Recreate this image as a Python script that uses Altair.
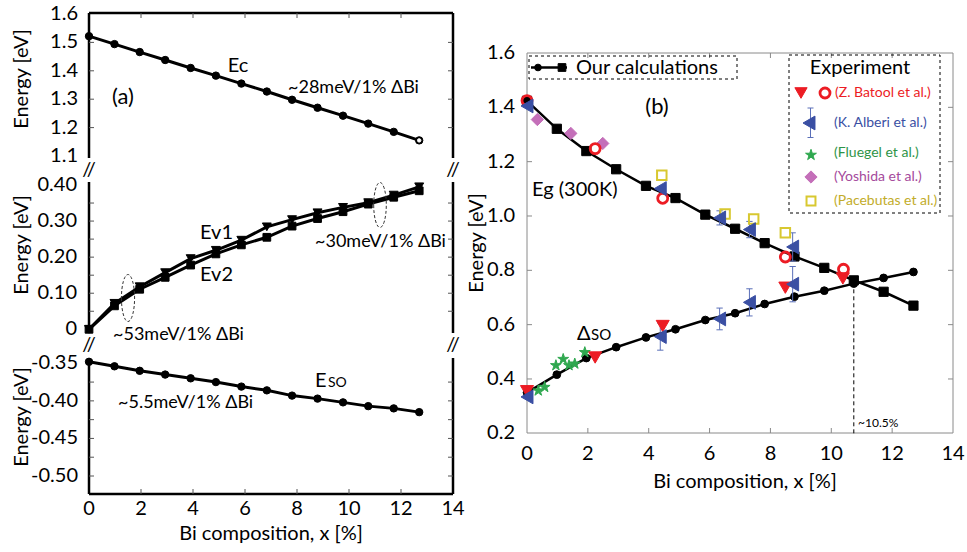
import altair as alt
import pandas as pd

FONT = "Lato"

# ---------------- data ----------------
x_calc = [0.0, 0.98, 1.95, 2.93, 3.91, 4.88, 5.86, 6.84, 7.81, 8.79, 9.77, 10.74, 11.72, 12.70]
ec = [1.522, 1.494, 1.466, 1.438, 1.410, 1.383, 1.355, 1.327, 1.298, 1.270, 1.242, 1.214, 1.185, 1.155]
ev1 = [0.0, 0.072, 0.118, 0.157, 0.196, 0.219, 0.247, 0.284, 0.304, 0.323, 0.338, 0.351, 0.372, 0.395]
ev2 = [0.0, 0.065, 0.111, 0.144, 0.178, 0.209, 0.234, 0.255, 0.286, 0.307, 0.326, 0.347, 0.366, 0.384]
eso = [-0.348, -0.354, -0.360, -0.365, -0.370, -0.375, -0.381, -0.386, -0.393, -0.397, -0.402, -0.407, -0.410, -0.415]
eg = [1.424, 1.321, 1.239, 1.172, 1.111, 1.066, 1.005, 0.953, 0.900, 0.851, 0.809, 0.763, 0.721, 0.670]
dso = [0.350, 0.416, 0.477, 0.517, 0.553, 0.583, 0.617, 0.642, 0.676, 0.703, 0.725, 0.751, 0.772, 0.794]

batool_so_x = [0.0, 2.24, 4.46, 8.49, 10.38]
batool_so_y = [0.355, 0.479, 0.595, 0.736, 0.770]
batool_eg_x = [0.0, 2.24, 4.46, 8.49, 10.40]
batool_eg_y = [1.425, 1.248, 1.065, 0.849, 0.804]
alberi_eg_x = [0.0, 4.38, 6.33, 7.31, 8.73]
alberi_eg_y = [1.405, 1.101, 0.993, 0.950, 0.886]
alberi_eg_err = [0.0, 0.0, 0.026, 0.030, 0.052]
alberi_so_x = [0.0, 4.38, 6.33, 7.31, 8.73]
alberi_so_y = [0.334, 0.556, 0.621, 0.682, 0.749]
alberi_so_err = [0.0, 0.050, 0.040, 0.050, 0.065]
fluegel_x = [0.37, 0.58, 0.95, 1.19, 1.38, 1.57, 1.90]
fluegel_y = [0.357, 0.370, 0.450, 0.473, 0.450, 0.456, 0.498]
yoshida_x = [0.34, 1.44, 2.49]
yoshida_y = [1.355, 1.304, 1.267]
pacebutas_x = [4.43, 6.51, 7.45, 8.49]
pacebutas_y = [1.150, 1.007, 0.989, 0.938]
crossover_x = [10.74]
crossover_y = [0.76]

x_labels = [0, 2, 4, 6, 8, 10, 12, 14]
top_labels = [1.1, 1.2, 1.3, 1.4, 1.5, 1.6]
mid_labels = [0.0, 0.1, 0.2, 0.3, 0.4]
mid_ticks = [0.05, 0.1, 0.15, 0.2, 0.25, 0.3, 0.35]
bot_labels = [-0.35, -0.40, -0.45, -0.50]
bot_ticks = [-0.375, -0.40, -0.425, -0.45, -0.475, -0.50]
right_y_labels = [0.2, 0.4, 0.6, 0.8, 1.0, 1.2, 1.4, 1.6]

RED = "#ec1c24"
BLUE = "#3a4fa3"
ERRBLUE = "#5a6fb8"
GREEN = "#2fa84f"
PURPLE = "#c46fb9"
YELLOW = "#d8c830"
GREY = "#8a8a8a"
TICK = "#555555"

STAR = "M0,-1 L0.2245,-0.309 L0.951,-0.309 L0.363,0.118 L0.588,0.809 L0,0.382 L-0.588,0.809 L-0.363,0.118 L-0.951,-0.309 L-0.2245,-0.309 Z"
ELLIPSE = "M-0.28,0 A0.28,1 0 1,0 0.28,0 A0.28,1 0 1,0 -0.28,0 Z"

dummy = pd.DataFrame({"d": [0]})

# ---------------- scales (pixel ranges place each panel) ----------------
XL = alt.Scale(domain=[0, 14], range=[89, 453], nice=False, zero=False)
XR = alt.Scale(domain=[0, 14], range=[527, 953], nice=False, zero=False)
Y_TOP = alt.Scale(domain=[1.1, 1.6], range=[156, 14], nice=False, zero=False)
Y_MID = alt.Scale(domain=[0.0, 0.4], range=[329.3, 185], nice=False, zero=False)
Y_BOT = alt.Scale(domain=[-0.50, -0.35], range=[476, 363.3], nice=False, zero=False)
Y_R = alt.Scale(domain=[0.2, 1.6], range=[433.3, 53], nice=False, zero=False)

layers = []


def ex(xs):
    return alt.X("x:Q", scale=xs, axis=None)


def ey(ys, f="y"):
    return alt.Y(f + ":Q", scale=ys, axis=None)


def series_line(xv, yv, xs, ys, width=3):
    df = pd.DataFrame({"x": xv, "y": yv})
    layers.append(alt.Chart(df).mark_line(color="black", strokeWidth=width).encode(x=ex(xs), y=ey(ys)))


def series_pts(xv, yv, xs, ys, shape, size, color="black", filled=True, sw=1.0):
    df = pd.DataFrame({"x": xv, "y": yv})
    kw = dict(shape=shape, size=size, opacity=1, strokeWidth=sw)
    if filled:
        kw.update(filled=True, fill=color, stroke=color)
    else:
        kw.update(filled=False, stroke=color)
    layers.append(alt.Chart(df).mark_point(**kw).encode(x=ex(xs), y=ey(ys)))


def rule_px(x, x2, y, y2, color="black", width=2.5, dash=None):
    kw = dict(color=color, strokeWidth=width)
    if dash:
        kw["strokeDash"] = dash
    layers.append(alt.Chart(dummy).mark_rule(**kw).encode(
        x=alt.value(x), x2=alt.value(x2), y=alt.value(y), y2=alt.value(y2)))


def text_px(t, x, y, size=20, color="black", align="left", baseline="middle", angle=0):
    kw = dict(text=t, fontSize=size, color=color, align=align, baseline=baseline, font=FONT)
    if angle:
        kw["angle"] = angle
    layers.append(alt.Chart(dummy).mark_text(**kw).encode(x=alt.value(x), y=alt.value(y)))


def sym_px(shape, x, y, size, color, filled=True, sw=1.0, dash=None):
    kw = dict(shape=shape, size=size, opacity=1, strokeWidth=sw)
    if filled:
        kw.update(filled=True, fill=color, stroke=color)
    else:
        kw.update(filled=False, stroke=color)
    if dash:
        kw["strokeDash"] = dash
    layers.append(alt.Chart(dummy).mark_point(**kw).encode(x=alt.value(x), y=alt.value(y)))


def yticks(vals, ys, x0, x1, color=TICK, width=1):
    df = pd.DataFrame({"t": vals})
    layers.append(alt.Chart(df).mark_rule(color=color, strokeWidth=width).encode(
        y=ey(ys, "t"), x=alt.value(x0), x2=alt.value(x1)))


def xticks(vals, xs, y0, y1, color=TICK, width=1):
    df = pd.DataFrame({"t": vals})
    layers.append(alt.Chart(df).mark_rule(color=color, strokeWidth=width).encode(
        x=alt.X("t:Q", scale=xs, axis=None), y=alt.value(y0), y2=alt.value(y1)))


def ylabels(vals, strs, ys, xpix, size=20):
    df = pd.DataFrame({"t": vals, "s": strs})
    layers.append(alt.Chart(df).mark_text(fontSize=size, font=FONT, color="black", align="right",
                                          baseline="middle").encode(
        y=ey(ys, "t"), x=alt.value(xpix), text="s:N"))


def xlabels(vals, xs, ypix, size=20):
    df = pd.DataFrame({"t": vals, "s": [str(v) for v in vals]})
    layers.append(alt.Chart(df).mark_text(fontSize=size, font=FONT, color="black", align="center",
                                          baseline="middle").encode(
        x=alt.X("t:Q", scale=xs, axis=None), y=alt.value(ypix), text="s:N"))


# ================= left panel (a) =================
for (a, b) in [(13, 158), (182, 333), (358, 494)]:
    rule_px(89, 89, a, b)
    rule_px(453, 453, a, b)
rule_px(89, 453, 13, 13)
rule_px(89, 453, 494, 494)

yticks(top_labels[1:-1], Y_TOP, 89, 94)
yticks(top_labels[1:-1], Y_TOP, 448, 453)
xticks(x_labels[1:-1], XL, 13, 18)
yticks(mid_ticks, Y_MID, 89, 94)
yticks(mid_ticks, Y_MID, 448, 453)
yticks(bot_ticks, Y_BOT, 89, 94)
yticks(bot_ticks, Y_BOT, 448, 453)
xticks(x_labels[1:-1], XL, 489, 494)

ylabels(top_labels, [f"{v:.1f}" for v in top_labels], Y_TOP, 78)
ylabels(mid_labels, ["0" if v == 0 else f"{v:.2f}" for v in mid_labels], Y_MID, 77)
ylabels(bot_labels, [f"{v:.2f}" for v in bot_labels], Y_BOT, 78)
xlabels(x_labels, XL, 509)

text_px("Energy [eV]", 22, 79, size=20, align="center", angle=270)
text_px("Energy [eV]", 22, 245, size=20, align="center", angle=270)
text_px("Energy [eV]", 22, 417, size=20, align="center", angle=270)
text_px("Bi composition, x [%]", 271, 534, size=20, align="center")

for (bx, by) in [(89, 170), (453, 170), (89, 345), (453, 345)]:
    text_px("//", bx, by, size=20, align="center")

series_line(x_calc, ec, XL, Y_TOP)
series_pts(x_calc, ec, XL, Y_TOP, "circle", 55)
series_pts(x_calc[-1:], ec[-1:], XL, Y_TOP, "circle", 12, "white")
series_line(x_calc, ev1, XL, Y_MID)
series_line(x_calc, ev2, XL, Y_MID)
series_pts(x_calc, ev1, XL, Y_MID, "triangle-down", 80)
series_pts(x_calc, ev2, XL, Y_MID, "square", 60)
series_line(x_calc, eso, XL, Y_BOT)
series_pts(x_calc, eso, XL, Y_BOT, "circle", 55)

text_px("(a)", 123, 97, size=22, align="center")
text_px("Ec", 238, 66, size=20, align="center")
text_px("~28meV/1% ΔBi", 288, 88, size=18)
text_px("Ev1", 200, 233, size=20)
text_px("Ev2", 200, 275, size=20)
text_px("~30meV/1% ΔBi", 315, 242, size=18)
text_px("~53meV/1% ΔBi", 113, 335, size=18)
sym_px(ELLIPSE, 128, 298, 2209, "#333", filled=False, sw=1, dash=[3, 2])
sym_px(ELLIPSE, 380, 205, 2025, "#333", filled=False, sw=1, dash=[3, 2])
text_px("E", 315, 387, size=20, baseline="alphabetic")
text_px("SO", 328, 387, size=14, baseline="alphabetic")
text_px("~5.5meV/1% ΔBi", 118, 403, size=18)

# ================= right panel (b) =================
rule_px(527, 527, 53, 433, color=GREY, width=1)
rule_px(953, 953, 53, 433, color=GREY, width=1)
rule_px(527, 953, 53, 53, color=GREY, width=1)
rule_px(527, 953, 433, 433, color=GREY, width=1)
yticks(right_y_labels[1:-1], Y_R, 527, 532, color=GREY)
yticks(right_y_labels[1:-1], Y_R, 948, 953, color=GREY)
xticks(x_labels[1:-1], XR, 53, 58, color=GREY)
xticks(x_labels[1:-1], XR, 428, 433, color=GREY)
ylabels(right_y_labels, [f"{v:.1f}" for v in right_y_labels], Y_R, 515)
xlabels(x_labels, XR, 454)
text_px("Energy [eV]", 477, 243, size=20, align="center", angle=270)
text_px("Bi composition, x [%]", 745, 482, size=20, align="center")

df_cross = pd.DataFrame({"x": crossover_x, "y": crossover_y, "y0": [0.2]})
layers.append(alt.Chart(df_cross).mark_rule(color="black", strokeWidth=1, strokeDash=[4, 3]).encode(
    x=ex(XR), y=ey(Y_R, "y0"), y2="y:Q"))

series_line(x_calc, eg, XR, Y_R, width=2.5)
series_line(x_calc, dso, XR, Y_R, width=2.5)
series_pts(x_calc, eg, XR, Y_R, "square", 85)
series_pts(x_calc, dso, XR, Y_R, "circle", 60)

df_aerr = pd.concat([pd.DataFrame({"x": alberi_eg_x, "y": alberi_eg_y, "e": alberi_eg_err}),
                     pd.DataFrame({"x": alberi_so_x, "y": alberi_so_y, "e": alberi_so_err})],
                    ignore_index=True)
df_aerr = df_aerr[df_aerr["e"] > 0].copy()
df_aerr["lo"] = df_aerr["y"] - df_aerr["e"]
df_aerr["hi"] = df_aerr["y"] + df_aerr["e"]
layers.append(alt.Chart(df_aerr).mark_rule(color=ERRBLUE, strokeWidth=1).encode(
    x=ex(XR), y=ey(Y_R, "lo"), y2="hi:Q"))
for f in ("lo", "hi"):
    layers.append(alt.Chart(df_aerr).mark_point(shape="stroke", size=40, color=ERRBLUE, strokeWidth=1,
                                                opacity=1).encode(x=ex(XR), y=ey(Y_R, f)))

series_pts(pacebutas_x, pacebutas_y, XR, Y_R, "square", 90, YELLOW, filled=False, sw=2)
series_pts(yoshida_x, yoshida_y, XR, Y_R, "diamond", 150, PURPLE)
series_pts(fluegel_x, fluegel_y, XR, Y_R, STAR, 130, GREEN)
series_pts(batool_so_x, batool_so_y, XR, Y_R, "triangle-down", 170, RED)
series_pts(batool_eg_x, batool_eg_y, XR, Y_R, "circle", 100, RED, filled=False, sw=2.8)
series_pts(alberi_eg_x, alberi_eg_y, XR, Y_R, "triangle-left", 190, BLUE)
series_pts(alberi_so_x, alberi_so_y, XR, Y_R, "triangle-left", 190, BLUE)

text_px("(b)", 657, 107, size=22, align="center")
text_px("Eg (300K)", 532, 190, size=20)
text_px("Δ", 577, 340, size=20, baseline="alphabetic")
text_px("SO", 591, 340, size=15, baseline="alphabetic")
text_px("~10.5%", 858, 423, size=12)

layers.append(alt.Chart(dummy).mark_rect(fillOpacity=0, stroke="black", strokeWidth=1, strokeDash=[3, 3]).encode(
    x=alt.value(529), x2=alt.value(737), y=alt.value(56), y2=alt.value(79)))
rule_px(531, 567, 67.5, 67.5, color="black", width=2.5)
sym_px("circle", 538, 67.5, 45, "black")
sym_px("square", 562, 67.5, 60, "black")
text_px("Our calculations", 576, 67.5, size=20)

layers.append(alt.Chart(dummy).mark_rect(fillOpacity=0, stroke="black", strokeWidth=1, strokeDash=[3, 3]).encode(
    x=alt.value(789), x2=alt.value(940), y=alt.value(55), y2=alt.value(213)))
text_px("Experiment", 860, 68, size=20, align="center")
sym_px("triangle-down", 801, 93, 150, RED)
sym_px("circle", 825, 93, 100, RED, filled=False, sw=2.8)
text_px("(Z. Batool et al.)", 835, 93, size=14, color=RED)
rule_px(810.5, 810.5, 108, 137.5, color=ERRBLUE, width=1)
rule_px(807.5, 813.5, 108, 108, color=ERRBLUE, width=1)
rule_px(807.5, 813.5, 137.5, 137.5, color=ERRBLUE, width=1)
sym_px("triangle-left", 809, 123, 190, BLUE)
text_px("(K. Alberi et al.)", 834, 123, size=14, color=BLUE)
sym_px(STAR, 811, 155, 130, GREEN)
text_px("(Fluegel et al.)", 834, 153, size=14, color="#2e9447")
sym_px("diamond", 811, 177, 150, PURPLE)
text_px("(Yoshida et al.)", 834, 177, size=14, color="#a54a9c")
sym_px("square", 811, 201, 80, YELLOW, filled=False, sw=2)
text_px("(Pacebutas et al.)", 834, 201, size=14, color="#c2ac2a")

chart = alt.layer(*layers).resolve_scale(x="independent", y="independent").properties(
    width=967, height=552, autosize="none", padding=0
).configure_view(strokeWidth=0)

chart.save("out.html", embed_options={"renderer": "svg", "actions": False})
